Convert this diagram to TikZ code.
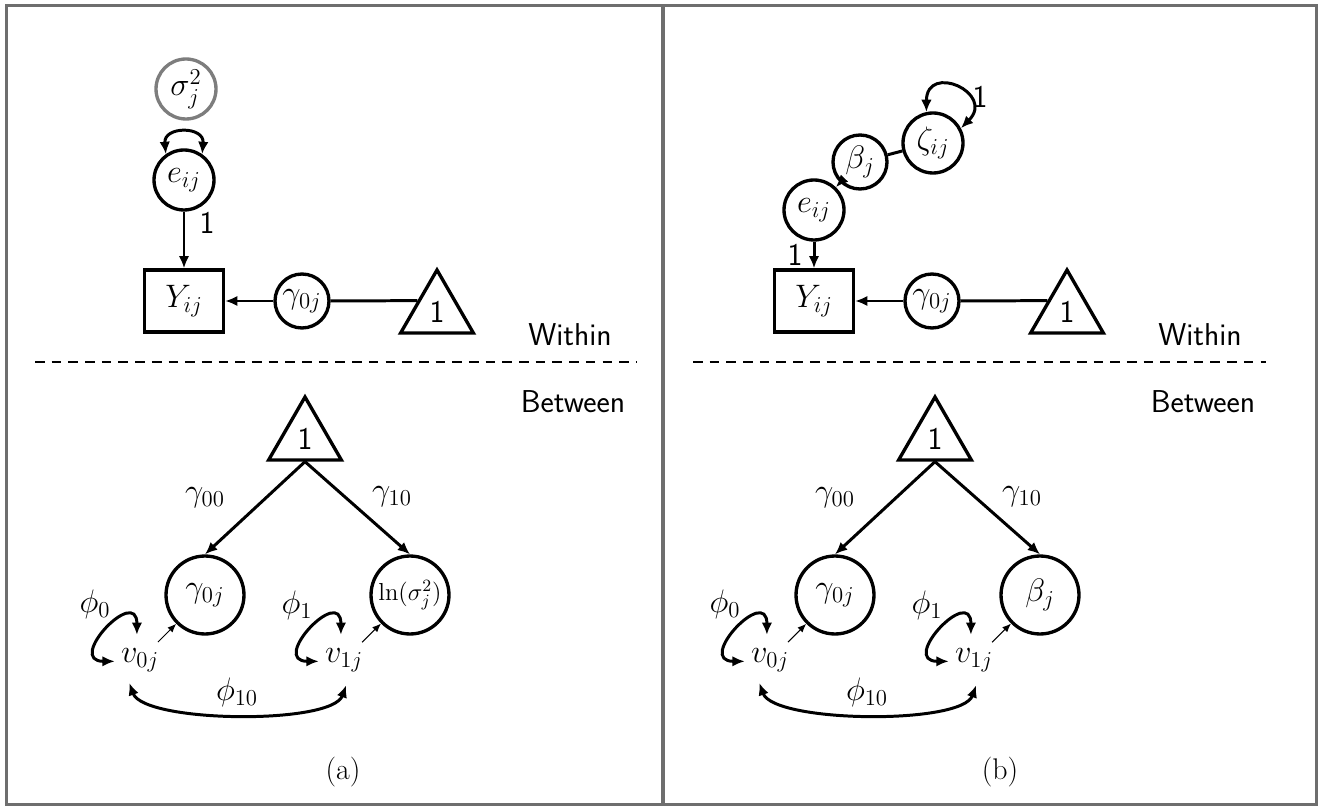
\documentclass[tikz,border=0pt]{standalone}
\usepackage{fix-cm}
\usepackage{amsmath}
\usepackage{amssymb}
\usepackage{tikz}
\usetikzlibrary{arrows.meta,shapes,calc}
\definecolor{frame}{RGB}{110,110,110}
\definecolor{varc}{RGB}{125,125,125}
\tikzstyle{edge}=[
	-,
	draw=black,
	line width=1.7pt
]
\tikzstyle{lat}=[
	circle,
	draw=black,
	line width=1.9pt,
	inner sep=0pt,
	minimum size=1.2cm
]
\tikzstyle{obs}=[
	rectangle,
	draw=black,
	line width=1.9pt,
	minimum width=1.58cm,
	minimum height=1.24cm
]
\tikzstyle{cnst}=[
	regular polygon,
	regular polygon sides=3,
	draw=black,
	line width=1.9pt,
	inner sep=0pt,
	minimum size=1.68cm,
	font=\sffamily\fontsize{18}{21}\selectfont
]
\tikzstyle{res}=[
	circle,
	inner sep=0pt,
	minimum size=1cm
]
\tikzstyle{lbl}=[
	inner sep=1pt
]
\tikzstyle{num}=[
	inner sep=1pt,
	font=\sffamily\fontsize{18}{21}\selectfont
]

\begin{document}
\begin{tikzpicture}[x=0.02cm, y=-0.02cm, >={Latex[length=7pt,width=6pt]}, font=\fontsize{18.5}{22}\selectfont]
\useasboundingbox (0,0) rectangle (1319,807);
\draw[draw=frame, line width=0.065cm] (6.5,5.5) rectangle (1316.5,804.5);
\draw[draw=frame, line width=0.065cm] (663,5.5) -- (663,804.5);

% both panels
\foreach \p/\dx/\ds/\cx/\lab in {a/0/35/343/{\fontsize{14}{17}\selectfont$\ln(\sigma_j^2)$}, b/630/63/370/{$\beta_j$}}{
\begin{scope}[xshift=\dx*0.02cm]
    \node[obs] at (184,301) (Y\p) {$Y_{ij}$};
    \node[lat, minimum size=1.08cm] at (302,301) (g\p) {$\gamma_{0j}$};
    \node[cnst] at (437,312) (t\p) {1};
    \draw[edge,->] (g\p) -- (Y\p);
    \draw[edge] (g\p) -- ($(t\p.corner 1)!0.5!(t\p.corner 2)$);

    \node[font=\sffamily\fontsize{18}{21}\selectfont] at (570,335) (w\p) {Within};
    \node[font=\sffamily\fontsize{18}{21}\selectfont] at (573,402) (bw\p) {Between};
    \draw[line width=1pt, dash pattern=on 5.5pt off 4pt] (\ds,362) -- (636,362);

    % between level
    \node[cnst] at (305,439) (tb\p) {1};
    \node[lat, minimum size=1.56cm] at (205,595) (gb\p) {$\gamma_{0j}$};
    \node[lat, minimum size=1.56cm] at (410,595) (s\p) {\lab};
    \draw[edge,->] (tb\p.south) -- (gb\p.north);
    \draw[edge,->] (tb\p.south) -- (s\p.north);
    \node[lbl] at (205,498) (l00\p) {$\gamma_{00}$};
    \node[lbl] at (392,497) (l10\p) {$\gamma_{10}$};

    \node[res] at (140,660) (v0\p) {$v_{0j}$};
    \node[res] at (344,660) (v1\p) {$v_{1j}$};
    \draw[-{Latex[length=5pt,width=4pt]}, line width=0.6pt] (v0\p) -- (gb\p);
    \draw[-{Latex[length=5pt,width=4pt]}, line width=0.6pt] (v1\p) -- (s\p);
    \draw[edge,<->] (v0\p.97) .. controls +(0,-50) and +(-50,0) .. (v0\p.183);
    \draw[edge,<->] (v1\p.97) .. controls +(0,-50) and +(-50,0) .. (v1\p.183);
    \draw[edge,<->] (v0\p.-115) to[out=-70, in=-110, looseness=0.5] (v1\p.-85);
    \node[lbl] at (95,604) (p0\p) {$\phi_0$};
    \node[lbl] at (297,605) (p1\p) {$\phi_1$};
    \node[lbl] at (237,692) (p10\p) {$\phi_{10}$};

    \node[font=\fontsize{17}{20}\selectfont] at (\cx,772) (cap\p) {(\p)};
\end{scope}
}

% within, panel (a)
\node[lat, draw=varc] at (186,89) (sig) {$\sigma_j^2$};
\node[lat] at (184,180) (ea) {$e_{ij}$};
\draw[edge,<->] (ea.125) to[out=95, in=85, looseness=2] (ea.55);
\draw[edge,->] (ea) -- (Ya);
\node[num] at (207,223) (oa) {1};

% within, panel (b)
\node[lat] at (814,210) (eb) {$e_{ij}$};
\node[lat, minimum size=1.08cm] at (860,162) (bet) {$\beta_j$};
\node[lat] at (933,143) (zet) {$\zeta_{ij}$};
\draw[edge] (zet) -- (bet);
\draw[edge,->] (bet) -- (eb);
\draw[edge,->] (eb) -- (Yb);
\draw[edge,<->] (zet.102) .. controls +(0,-50) and +(35,-35) .. (zet.28);
\node[num] at (795,255) (ob) {1};
\node[num] at (980,97) (oz) {1};
\end{tikzpicture}
\end{document}
